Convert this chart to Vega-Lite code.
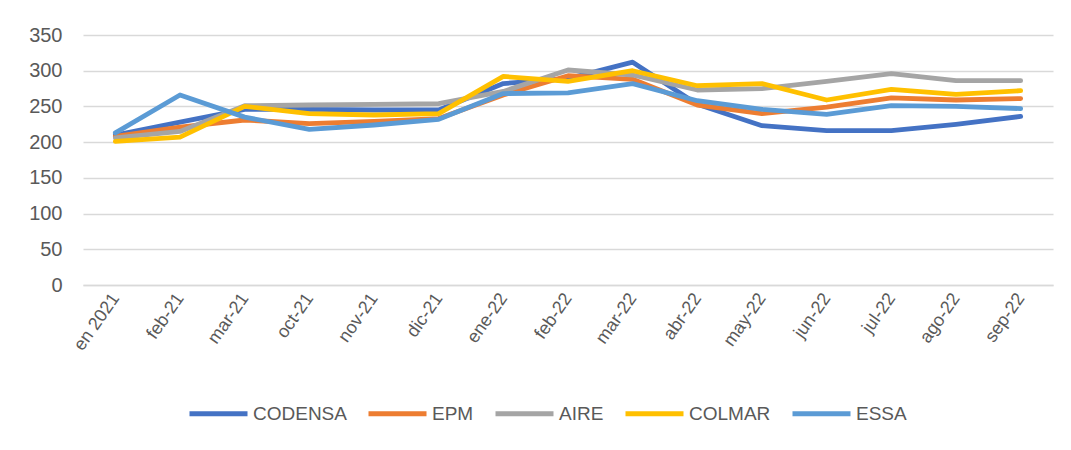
{
  "$schema": "https://vega.github.io/schema/vega-lite/v6.json",
  "autosize": "none",
  "width": 970,
  "height": 250,
  "padding": {"left": 83, "top": 35, "right": 18, "bottom": 165},
  "background": "white",
  "config": {
    "view": {"stroke": null},
    "font": "Liberation Sans",
    "axis": {"labelColor": "#595959", "labelFont": "Liberation Sans"},
    "legend": {"labelColor": "#595959", "labelFont": "Liberation Sans"}
  },
  "data": {
    "values": [
      {"mes": "en 2021", "empresa": "CODENSA", "valor": 210},
      {"mes": "feb-21", "empresa": "CODENSA", "valor": 228},
      {"mes": "mar-21", "empresa": "CODENSA", "valor": 246},
      {"mes": "oct-21", "empresa": "CODENSA", "valor": 246},
      {"mes": "nov-21", "empresa": "CODENSA", "valor": 245},
      {"mes": "dic-21", "empresa": "CODENSA", "valor": 245},
      {"mes": "ene-22", "empresa": "CODENSA", "valor": 282},
      {"mes": "feb-22", "empresa": "CODENSA", "valor": 289},
      {"mes": "mar-22", "empresa": "CODENSA", "valor": 312},
      {"mes": "abr-22", "empresa": "CODENSA", "valor": 253},
      {"mes": "may-22", "empresa": "CODENSA", "valor": 223},
      {"mes": "jun-22", "empresa": "CODENSA", "valor": 216},
      {"mes": "jul-22", "empresa": "CODENSA", "valor": 216},
      {"mes": "ago-22", "empresa": "CODENSA", "valor": 225},
      {"mes": "sep-22", "empresa": "CODENSA", "valor": 236},
      {"mes": "en 2021", "empresa": "EPM", "valor": 208},
      {"mes": "feb-21", "empresa": "EPM", "valor": 221},
      {"mes": "mar-21", "empresa": "EPM", "valor": 231},
      {"mes": "oct-21", "empresa": "EPM", "valor": 226},
      {"mes": "nov-21", "empresa": "EPM", "valor": 229},
      {"mes": "dic-21", "empresa": "EPM", "valor": 233},
      {"mes": "ene-22", "empresa": "EPM", "valor": 266},
      {"mes": "feb-22", "empresa": "EPM", "valor": 293},
      {"mes": "mar-22", "empresa": "EPM", "valor": 288},
      {"mes": "abr-22", "empresa": "EPM", "valor": 252},
      {"mes": "may-22", "empresa": "EPM", "valor": 240},
      {"mes": "jun-22", "empresa": "EPM", "valor": 249},
      {"mes": "jul-22", "empresa": "EPM", "valor": 262},
      {"mes": "ago-22", "empresa": "EPM", "valor": 259},
      {"mes": "sep-22", "empresa": "EPM", "valor": 261},
      {"mes": "en 2021", "empresa": "AIRE", "valor": 206},
      {"mes": "feb-21", "empresa": "AIRE", "valor": 215},
      {"mes": "mar-21", "empresa": "AIRE", "valor": 251},
      {"mes": "oct-21", "empresa": "AIRE", "valor": 252},
      {"mes": "nov-21", "empresa": "AIRE", "valor": 253},
      {"mes": "dic-21", "empresa": "AIRE", "valor": 254},
      {"mes": "ene-22", "empresa": "AIRE", "valor": 271},
      {"mes": "feb-22", "empresa": "AIRE", "valor": 301},
      {"mes": "mar-22", "empresa": "AIRE", "valor": 294},
      {"mes": "abr-22", "empresa": "AIRE", "valor": 273},
      {"mes": "may-22", "empresa": "AIRE", "valor": 275},
      {"mes": "jun-22", "empresa": "AIRE", "valor": 285},
      {"mes": "jul-22", "empresa": "AIRE", "valor": 296},
      {"mes": "ago-22", "empresa": "AIRE", "valor": 286},
      {"mes": "sep-22", "empresa": "AIRE", "valor": 286},
      {"mes": "en 2021", "empresa": "COLMAR", "valor": 201},
      {"mes": "feb-21", "empresa": "COLMAR", "valor": 207},
      {"mes": "mar-21", "empresa": "COLMAR", "valor": 250},
      {"mes": "oct-21", "empresa": "COLMAR", "valor": 240},
      {"mes": "nov-21", "empresa": "COLMAR", "valor": 238},
      {"mes": "dic-21", "empresa": "COLMAR", "valor": 240},
      {"mes": "ene-22", "empresa": "COLMAR", "valor": 292},
      {"mes": "feb-22", "empresa": "COLMAR", "valor": 285},
      {"mes": "mar-22", "empresa": "COLMAR", "valor": 300},
      {"mes": "abr-22", "empresa": "COLMAR", "valor": 279},
      {"mes": "may-22", "empresa": "COLMAR", "valor": 282},
      {"mes": "jun-22", "empresa": "COLMAR", "valor": 259},
      {"mes": "jul-22", "empresa": "COLMAR", "valor": 274},
      {"mes": "ago-22", "empresa": "COLMAR", "valor": 267},
      {"mes": "sep-22", "empresa": "COLMAR", "valor": 272},
      {"mes": "en 2021", "empresa": "ESSA", "valor": 213},
      {"mes": "feb-21", "empresa": "ESSA", "valor": 266},
      {"mes": "mar-21", "empresa": "ESSA", "valor": 235},
      {"mes": "oct-21", "empresa": "ESSA", "valor": 218},
      {"mes": "nov-21", "empresa": "ESSA", "valor": 224},
      {"mes": "dic-21", "empresa": "ESSA", "valor": 232},
      {"mes": "ene-22", "empresa": "ESSA", "valor": 268},
      {"mes": "feb-22", "empresa": "ESSA", "valor": 269},
      {"mes": "mar-22", "empresa": "ESSA", "valor": 282},
      {"mes": "abr-22", "empresa": "ESSA", "valor": 258},
      {"mes": "may-22", "empresa": "ESSA", "valor": 246},
      {"mes": "jun-22", "empresa": "ESSA", "valor": 239},
      {"mes": "jul-22", "empresa": "ESSA", "valor": 251},
      {"mes": "ago-22", "empresa": "ESSA", "valor": 250},
      {"mes": "sep-22", "empresa": "ESSA", "valor": 247}
    ]
  },
  "mark": {"type": "line", "strokeWidth": 4.8, "strokeCap": "round", "strokeJoin": "round"},
  "encoding": {
    "x": {
      "field": "mes",
      "type": "ordinal",
      "sort": null,
      "scale": {"type": "point", "padding": 0.5},
      "axis": {
        "title": null,
        "labelAngle": -55,
        "labelFontSize": 18,
        "labelPadding": 10,
        "ticks": false,
        "domain": true,
        "domainColor": "#d9d9d9",
        "domainWidth": 1.5,
        "grid": false
      }
    },
    "y": {
      "field": "valor",
      "type": "quantitative",
      "scale": {"domain": [0, 350], "nice": false},
      "axis": {
        "title": null,
        "values": [0, 50, 100, 150, 200, 250, 300, 350],
        "labelFontSize": 20,
        "labelPadding": 21,
        "ticks": false,
        "domain": false,
        "gridColor": "#d9d9d9",
        "gridWidth": 1.5
      }
    },
    "color": {
      "field": "empresa",
      "type": "nominal",
      "sort": ["CODENSA", "EPM", "AIRE", "COLMAR", "ESSA"],
      "scale": {
        "domain": ["CODENSA", "EPM", "AIRE", "COLMAR", "ESSA"],
        "range": ["#4472C4", "#ED7D31", "#A5A5A5", "#FFC000", "#5B9BD5"]
      },
      "legend": {
        "title": null,
        "orient": "none",
        "direction": "horizontal",
        "columns": 5,
        "legendX": 104,
        "legendY": 347,
        "symbolType": "stroke",
        "symbolSize": 3364,
        "symbolStrokeWidth": 5,
        "labelFontSize": 19,
        "labelOffset": 3,
        "columnPadding": 11
      }
    }
  }
}
